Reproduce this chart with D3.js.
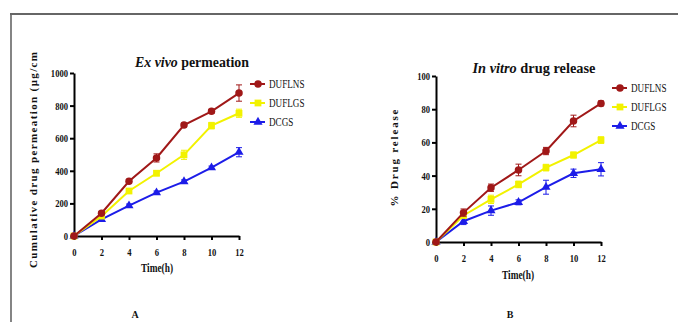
<!DOCTYPE html>
<html><head><meta charset="utf-8">
<script src="https://cdn.jsdelivr.net/npm/d3@7"></script>
<style>body{margin:0;background:#fff}svg{display:block}</style>
</head><body>
<svg id="c" width="678" height="322"></svg>
<script>
const times = [0, 2, 4, 6, 8, 10, 12];
const seriesNames = ["DUFLNS", "DUFLGS", "DCGS"];
// Panel A: Ex vivo permeation (μg/cm²)
const exDUFLNS = [0, 140, 336, 479, 681, 765, 877];
const exDUFLGS = [0, 122, 276, 385, 498, 677, 753];
const exDCGS   = [0, 102, 186, 266, 334, 419, 514];
const exErrDUFLNS = [0, 8, 12, 25, 12, 12, 50];
const exErrDUFLGS = [0, 8, 15, 15, 28, 20, 25];
const exErrDCGS   = [0, 8, 10, 10, 10, 10, 28];
// Panel B: In vitro drug release (%)
const inDUFLNS = [0, 17.7, 32.7, 43.4, 54.8, 72.9, 83.5];
const inDUFLGS = [0, 16.0, 25.7, 34.7, 44.8, 52.4, 61.4];
const inDCGS   = [0, 12.5, 18.9, 23.9, 33.0, 41.4, 43.8];
const inErrDUFLNS = [0, 2.2, 2.2, 3.5, 2.2, 3.5, 1.5];
const inErrDUFLGS = [0, 1.5, 2.5, 2, 2, 1.8, 2];
const inErrDCGS   = [0, 2, 2.8, 1.5, 4.2, 2.5, 4];
const yTicksA = [0, 200, 400, 600, 800, 1000];
const yTicksB = [0, 20, 40, 60, 80, 100];
const xTicks = [0, 2, 4, 6, 8, 10, 12];

const colors = {DUFLNS: "#a01818", DUFLGS: "#f2f200", DCGS: "#1c1ce8"};
const shapes = {DUFLNS: d3.symbolCircle, DUFLGS: d3.symbolSquare, DCGS: d3.symbolTriangle};
const symSize = {DUFLNS: 44, DUFLGS: 46, DCGS: 36};
const serif = "'Liberation Serif','Times New Roman',serif";

const svg = d3.select("#c");

function condense(sel, f) {
  sel.each(function () {
    const w = this.getComputedTextLength();
    d3.select(this).attr("textLength", w * f).attr("lengthAdjust", "spacingAndGlyphs");
  });
}

// frame
svg.append("line").attr("x1", 10).attr("x2", 678).attr("y1", 14).attr("y2", 14)
  .attr("stroke", "#333").attr("stroke-width", 1.6);
svg.append("line").attr("x1", 11).attr("x2", 11).attr("y1", 14).attr("y2", 322)
  .attr("stroke", "#666").attr("stroke-width", 1.6);

function panel(cfg) {
  const g = svg.append("g");
  const x = d3.scaleLinear().domain([0, 12]).range(cfg.xr);
  const y = d3.scaleLinear().domain(cfg.yd).range(cfg.yr);

  const xa = g.append("g").attr("transform", `translate(0,${cfg.yr[0]})`)
    .call(d3.axisBottom(x).tickValues(xTicks).tickFormat(d3.format("d")).tickSize(4).tickSizeOuter(0).tickPadding(6));
  const ya = g.append("g").attr("transform", `translate(${cfg.xr[0]},0)`)
    .call(d3.axisLeft(y).tickValues(cfg.yTicks).tickFormat(d3.format("d")).tickSize(4).tickSizeOuter(0).tickPadding(2));
  [xa, ya].forEach(a => {
    a.select(".domain").attr("stroke", "#000").attr("stroke-width", 2);
    a.selectAll(".tick line").attr("stroke", "#000").attr("stroke-width", 2);
    a.selectAll("text").attr("font-family", serif).attr("font-weight", "bold")
      .attr("font-size", 11).attr("fill", "#111");
    condense(a.selectAll("text"), 0.78);
  });
  xa.selectAll("text").attr("dy", "0.9em");

  const data = [
    {name: "DCGS", v: cfg.vals[2], e: cfg.errs[2]},
    {name: "DUFLGS", v: cfg.vals[1], e: cfg.errs[1]},
    {name: "DUFLNS", v: cfg.vals[0], e: cfg.errs[0]}
  ];
  const line = d3.line().x((d, i) => x(times[i])).y(d => y(d));
  data.forEach(s => {
    const c = colors[s.name];
    const sg = g.append("g");
    sg.append("path").attr("d", line(s.v)).attr("fill", "none").attr("stroke", c).attr("stroke-width", 2);
    times.forEach((t, i) => {
      if (s.e[i] <= 0) return;
      const cx = x(t), y1 = y(s.v[i] + s.e[i]), y2 = y(s.v[i] - s.e[i]);
      sg.append("line").attr("x1", cx).attr("x2", cx).attr("y1", y1).attr("y2", y2).attr("stroke", c).attr("stroke-width", 1);
      [y1, y2].forEach(yy => sg.append("line").attr("x1", cx - 3).attr("x2", cx + 3).attr("y1", yy).attr("y2", yy).attr("stroke", c).attr("stroke-width", 1));
    });
    sg.selectAll("path.m").data(s.v).join("path").attr("class", "m")
      .attr("d", d3.symbol().type(shapes[s.name]).size(symSize[s.name]))
      .attr("transform", (d, i) => `translate(${x(times[i])},${y(d)})`)
      .attr("fill", c);
  });

  // title
  const t = g.append("text").attr("x", cfg.title.x).attr("y", cfg.title.y)
    .attr("text-anchor", "middle").attr("font-family", serif).attr("font-weight", "bold")
    .attr("font-size", 14).attr("fill", "#111");
  t.append("tspan").attr("font-style", "italic").text(cfg.title.it);
  t.append("tspan").text(cfg.title.rest);
  t.attr("textLength", cfg.title.w).attr("lengthAdjust", "spacingAndGlyphs");

  // x title
  g.append("text").attr("x", cfg.xt.x).attr("y", cfg.xt.y).attr("text-anchor", "middle")
    .attr("font-family", serif).attr("font-weight", "bold").attr("font-size", 11.5).attr("fill", "#111")
    .attr("textLength", 32).attr("lengthAdjust", "spacingAndGlyphs").text("Time(h)");

  // y title
  g.append("text").attr("transform", `translate(${cfg.yt.x},${cfg.yt.y}) rotate(-90)`)
    .attr("text-anchor", "middle").attr("font-family", serif).attr("font-weight", "bold")
    .attr("font-size", 11).attr("fill", "#111")
    .attr("textLength", cfg.yt.w).attr("lengthAdjust", "spacing").text(cfg.yt.text);

  // legend
  seriesNames.forEach((n, i) => {
    const ly = cfg.leg.y + i * cfg.leg.dy;
    const c = colors[n];
    g.append("line").attr("x1", cfg.leg.x - 8).attr("x2", cfg.leg.x + 7).attr("y1", ly).attr("y2", ly)
      .attr("stroke", c).attr("stroke-width", 2);
    g.append("path").attr("d", d3.symbol().type(shapes[n]).size(symSize[n])())
      .attr("transform", `translate(${cfg.leg.x},${ly})`).attr("fill", c);
    const lt = g.append("text").attr("x", cfg.leg.x + 11).attr("y", ly).attr("dy", "0.35em")
      .attr("font-family", serif).attr("font-size", 12).attr("fill", "#111").text(n);
    condense(lt, 0.76);
  });

  // panel letter
  g.append("text").attr("x", cfg.letter.x).attr("y", 318).attr("text-anchor", "middle")
    .attr("font-family", serif).attr("font-weight", "bold").attr("font-size", 10).attr("fill", "#111")
    .text(cfg.letter.t);
}

panel({
  xr: [74, 239], yd: [0, 1000], yr: [236, 73], yTicks: yTicksA,
  vals: [exDUFLNS, exDUFLGS, exDCGS], errs: [exErrDUFLNS, exErrDUFLGS, exErrDCGS],
  title: {x: 192, y: 67, it: "Ex vivo", rest: " permeation", w: 114},
  xt: {x: 157, y: 272},
  yt: {x: 37, y: 160, w: 216, text: "Cumulative drug permeation (μg/cm"},
  leg: {x: 258, y: 84, dy: 19},
  letter: {x: 135, t: "A"}
});
panel({
  xr: [436, 601], yd: [0, 100], yr: [242, 76], yTicks: yTicksB,
  vals: [inDUFLNS, inDUFLGS, inDCGS], errs: [inErrDUFLNS, inErrDUFLGS, inErrDCGS],
  title: {x: 534, y: 73, it: "In vitro", rest: " drug release", w: 123},
  xt: {x: 518, y: 279},
  yt: {x: 398, y: 158, w: 97, text: "% Drug release"},
  leg: {x: 620, y: 88, dy: 19},
  letter: {x: 510, t: "B"}
});
</script>
</body></html>
